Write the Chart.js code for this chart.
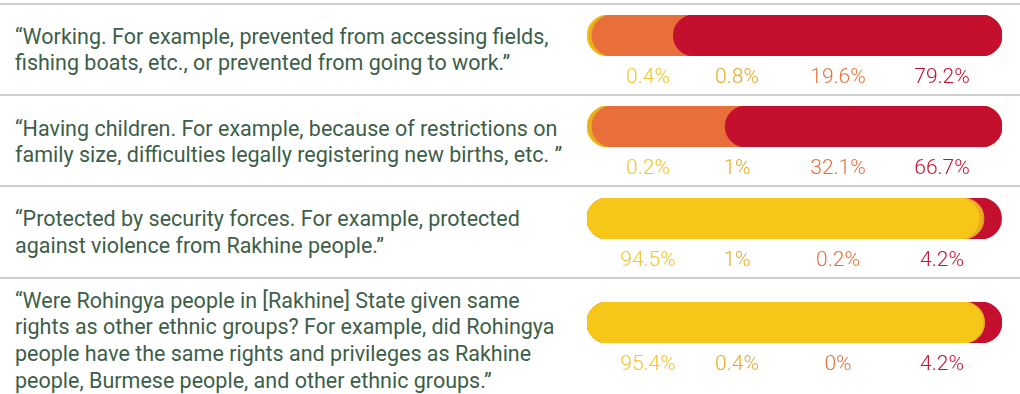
<!DOCTYPE html>
<html>
<head>
<meta charset="utf-8">
<script src="https://cdn.jsdelivr.net/npm/chart.js@4.4.0/dist/chart.umd.min.js"></script>
<style>
  body { margin: 0; width: 1020px; height: 394px; overflow: hidden; background: #fff; position: relative; font-family: Roboto, sans-serif; }
  .rule { position: absolute; left: 0; width: 1020px; height: 2px; background: #cfcfcf; }
  .q { position: absolute; left: 15px; font-size: 21.5px; line-height: 26.8px; color: #3d5e48; white-space: nowrap; }
  canvas { position: absolute; left: 583px; }
</style>
</head>
<body>
<script>
const questions = [
    ['\u201CWorking. For example, prevented from accessing fields,', 'fishing boats, etc., or prevented from going to work.\u201D'],
    ['\u201CHaving children. For example, because of restrictions on', 'family size, difficulties legally registering new births, etc. \u201D'],
    ['\u201CProtected by security forces. For example, protected', 'against violence from Rakhine people.\u201D'],
    ['\u201CWere Rohingya people in [Rakhine] State given same', 'rights as other ethnic groups? For example, did Rohingya', 'people have the same rights and privileges as Rakhine', 'people, Burmese people, and other ethnic groups.\u201D']
];

// share of answers per question, one array per colour band (left to right)
const yellowShare = [0.4, 0.2, 94.5, 95.4];
const goldShare   = [0.8, 1, 1, 0.4];
const orangeShare = [19.6, 32.1, 0.2, 0];
const redShare    = [79.2, 66.7, 4.2, 4.2];

const bandColors  = ['#F6C619', '#E9AC22', '#E86F3A', '#C4102E'];
const labelColors = ['#F5C524', '#E9AA26', '#E8703C', '#C4122F'];

// layout of the rows
const rulesY   = [4, 95, 186, 278];
const textTop  = [23.5, 115.5, 206, 287.5];
const barTop   = [15, 106, 198, 302];
const labelCols = [61, 150, 251, 355];   // label centres, px from bar start

const bands = [yellowShare, goldShare, orangeShare, redShare];

rulesY.forEach(function (y) {
    const d = document.createElement('div');
    d.className = 'rule';
    d.style.top = (y - 1) + 'px';
    document.body.appendChild(d);
});

const percentLabels = {
    id: 'percentLabels',
    afterDraw(chart) {
        const ctx = chart.ctx;
        const area = chart.chartArea;
        const row = chart.options.plugins.percentLabels.row;
        ctx.save();
        ctx.font = '300 21px Roboto, sans-serif';
        ctx.textAlign = 'center';
        ctx.textBaseline = 'middle';
        bands.forEach(function (b, i) {
            ctx.fillStyle = labelColors[i];
            ctx.fillText(b[row] + '%', area.left + labelCols[i], area.bottom + 22);
        });
        ctx.restore();
    }
};

questions.forEach(function (lines, row) {
    const q = document.createElement('div');
    q.className = 'q';
    q.style.top = textTop[row] + 'px';
    q.innerHTML = lines.join('<br>');
    document.body.appendChild(q);

    const canvas = document.createElement('canvas');
    canvas.width = 427;
    canvas.height = 84;
    canvas.style.top = (barTop[row] - 4) + 'px';
    document.body.appendChild(canvas);

    const values = bands.map(function (b) { return b[row]; });
    const biggest = values.indexOf(Math.max.apply(null, values));

    // each band is a capsule that runs under its neighbour toward the biggest band
    let start = 0;
    const datasets = values.map(function (v, i) {
        const end = start + v;
        let range;
        if (i < biggest) range = [start, 100];
        else if (i > biggest) range = [0, end];
        else range = [start, end];
        start = end;
        return {
            data: [range],
            backgroundColor: bandColors[i],
            borderRadius: 21,
            borderSkipped: false,
            grouped: false,
            barPercentage: 1,
            categoryPercentage: 1,
            order: Math.abs(i - biggest)
        };
    });

    new Chart(canvas, {
        type: 'bar',
        data: { labels: [''], datasets: datasets },
        options: {
            indexAxis: 'y',
            responsive: false,
            animation: false,
            devicePixelRatio: 1,
            layout: { padding: { left: 4, right: 8, top: 4, bottom: 39 } },
            scales: {
                x: { min: 0, max: 100, display: false },
                y: { display: false }
            },
            plugins: {
                legend: { display: false },
                tooltip: { enabled: false },
                percentLabels: { row: row }
            }
        },
        plugins: [percentLabels]
    });
});
</script>
</body>
</html>
